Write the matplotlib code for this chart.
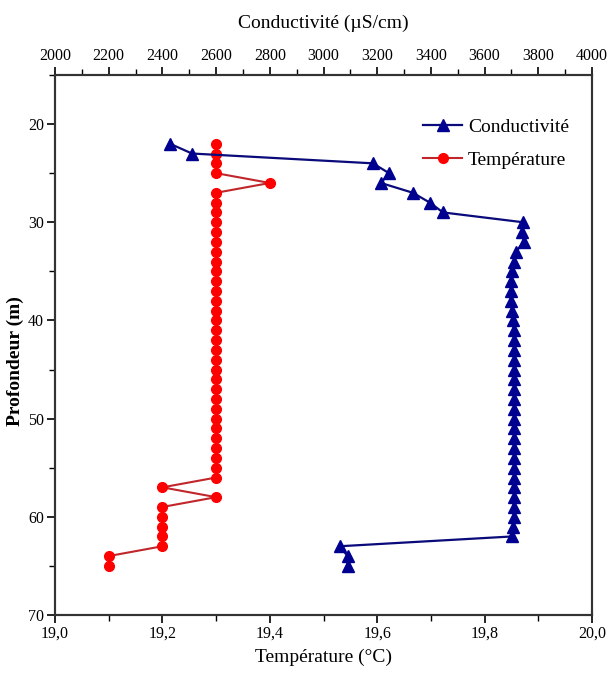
import matplotlib
matplotlib.use("Agg")
import matplotlib.pyplot as plt
from matplotlib.ticker import MultipleLocator, FuncFormatter

plt.rcParams['font.family'] = ['Liberation Serif', 'DejaVu Serif']

depth = list(range(22, 66))

temperature = [19.3, 19.3, 19.3, 19.3, 19.4] + [19.3] * 30 + \
    [19.2, 19.3, 19.2, 19.2, 19.2, 19.2, 19.2, 19.1, 19.1]

conductivity = [2428, 2510, 3184, 3244, 3214, 3333, 3396, 3445,
                3743, 3739, 3746, 3717, 3710, 3703, 3700, 3698, 3697, 3703,
                3706, 3708, 3710, 3710, 3710, 3710, 3710, 3710, 3710, 3710,
                3710, 3710, 3710, 3710, 3710, 3710, 3710, 3710, 3710, 3708,
                3708, 3706, 3703, 3060, 3090, 3090]

fig = plt.figure(figsize=(6.07, 6.73), dpi=100)
ax = fig.add_axes([0.0906, 0.0862, 0.8847, 0.8024])
ax2 = ax.twiny()

l2, = ax.plot(temperature, depth, color='#c0262a', lw=1.5, marker='o',
              ms=7, mfc='#ff0000', mec='#ff0000', label='Température')
l1, = ax2.plot(conductivity, depth, color='#0a0a7a', lw=1.6, marker='^',
               ms=8, mfc='#000090', mec='#000090', label='Conductivité')

ax.set_xlim(19.0, 20.0)
ax2.set_xlim(2000, 4000)
ax.set_ylim(70, 15)

ax.xaxis.set_major_locator(MultipleLocator(0.2))
ax.xaxis.set_minor_locator(MultipleLocator(0.1))
ax.xaxis.set_major_formatter(FuncFormatter(lambda v, p: f"{v:.1f}".replace('.', ',')))
ax2.xaxis.set_major_locator(MultipleLocator(200))
ax2.xaxis.set_minor_locator(MultipleLocator(100))
ax.yaxis.set_major_locator(MultipleLocator(10))
ax.yaxis.set_minor_locator(MultipleLocator(5))

for a in (ax, ax2):
    a.tick_params(which='major', direction='out', length=6, width=1.2, labelsize=11.5, pad=2)
    a.tick_params(which='minor', direction='out', length=4, width=1.0)
    for s in a.spines.values():
        s.set_linewidth(1.5)
        s.set_color('#333333')

ax.set_xlabel('Température (°C)', fontsize=14, labelpad=5)
ax2.set_xlabel('Conductivité (µS/cm)', fontsize=14, labelpad=14)
ax.set_ylabel('Profondeur (m)', fontsize=14, fontweight='bold')
ax.yaxis.set_label_coords(-0.058, 0.47)

ax2.legend([l1, l2], ['Conductivité', 'Température'], loc='upper right',
           bbox_to_anchor=(0.99, 0.952), frameon=False, fontsize=14,
           handlelength=2.0, handletextpad=0.3, labelspacing=0.8)

fig.savefig('out.png', dpi=100)
